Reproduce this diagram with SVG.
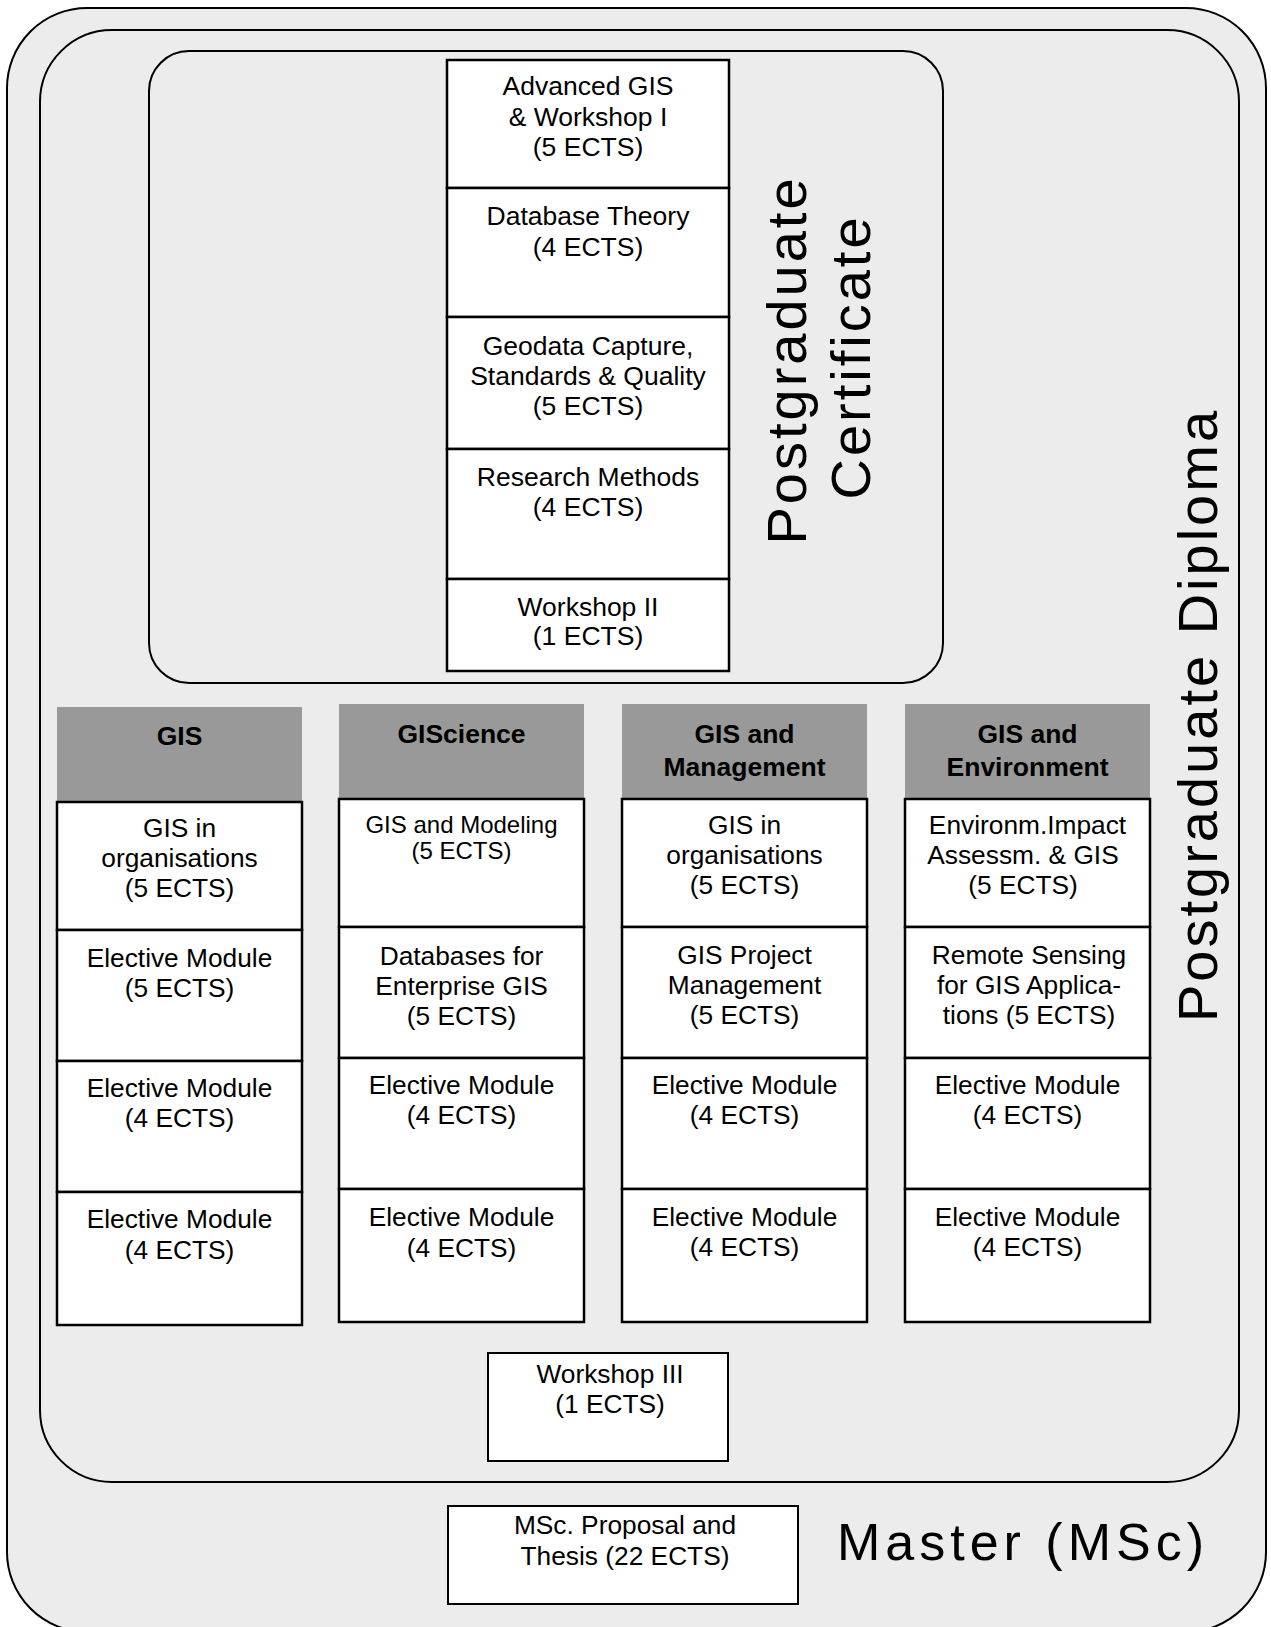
<svg xmlns="http://www.w3.org/2000/svg" width="1271" height="1627" viewBox="0 0 1271 1627">
<style>
.frame{fill:#ececec;stroke:#000;stroke-width:2}
.cell{fill:#fff;stroke:#000;stroke-width:2.5}
.hdr{fill:#999999;stroke:none}
text{font-family:"Liberation Sans",Arial,sans-serif;fill:#000;text-anchor:middle}
.t26{font-size:26.5px}
.t25{font-size:26.3px}
.t23{font-size:24px}
.hb{font-size:26.5px;font-weight:bold}
.big{font-size:56px;letter-spacing:3px}
</style>
<rect width="1271" height="1627" fill="#fff"/>
<g id="master">
<rect class="frame" x="7" y="8" width="1259" height="1624" rx="80" ry="80"/>
<text x="1023" y="1560" style="font-size:52px;letter-spacing:5px">Master (MSc)</text>
</g>
<g id="diploma">
<rect class="frame" x="40" y="30" width="1199" height="1452" rx="72" ry="72"/>
<text class="big" transform="translate(1217,715) rotate(-90)" x="0" y="0">Postgraduate Diploma</text>
</g>
<g id="certificate">
<rect class="frame" x="149" y="51" width="794" height="632" rx="40" ry="40"/>
<text class="big" transform="translate(806,360) rotate(-90)" x="0" y="0">Postgraduate</text>
<text class="big" transform="translate(870,357) rotate(-90)" x="0" y="0">Certificate</text>
</g>
<g id="cert-modules">
<g id="adv-gis"><rect class="cell" x="447" y="60" width="282" height="128"/>
<text class="t26" x="588" y="95">Advanced GIS</text><text class="t26" x="588" y="126">&amp; Workshop I</text><text class="t26" x="588" y="156">(5 ECTS)</text></g>
<g id="db-theory"><rect class="cell" x="447" y="188" width="282" height="129"/>
<text class="t26" x="588" y="225">Database Theory</text><text class="t26" x="588" y="256">(4 ECTS)</text></g>
<g id="geodata"><rect class="cell" x="447" y="317" width="282" height="132"/>
<text class="t26" x="588" y="355">Geodata Capture,</text><text class="t26" x="588" y="385">Standards &amp; Quality</text><text class="t26" x="588" y="415">(5 ECTS)</text></g>
<g id="research"><rect class="cell" x="447" y="449" width="282" height="130"/>
<text class="t26" x="588" y="486">Research Methods</text><text class="t26" x="588" y="516">(4 ECTS)</text></g>
<g id="workshop2"><rect class="cell" x="447" y="579" width="282" height="92"/>
<text class="t26" x="588" y="616">Workshop II</text><text class="t26" x="588" y="645">(1 ECTS)</text></g>
</g>
<g id="track-gis">
<rect class="hdr" x="57" y="707" width="245" height="95"/>
<text class="hb" x="179.5" y="745">GIS</text>
<rect class="cell" x="57" y="802" width="245" height="128"/>
<text class="t25" x="179.5" y="837">GIS in</text><text class="t25" x="179.5" y="867">organisations</text><text class="t25" x="179.5" y="897">(5 ECTS)</text>
<rect class="cell" x="57" y="930" width="245" height="131"/>
<text class="t25" x="179.5" y="967">Elective Module</text><text class="t25" x="179.5" y="997">(5 ECTS)</text>
<rect class="cell" x="57" y="1061" width="245" height="131"/>
<text class="t25" x="179.5" y="1097">Elective Module</text><text class="t25" x="179.5" y="1127">(4 ECTS)</text>
<rect class="cell" x="57" y="1192" width="245" height="133"/>
<text class="t25" x="179.5" y="1228">Elective Module</text><text class="t25" x="179.5" y="1259">(4 ECTS)</text>
</g>
<g id="track-giscience">
<rect class="hdr" x="339" y="704" width="245" height="95"/>
<text class="hb" x="461.5" y="743">GIScience</text>
<rect class="cell" x="339" y="799" width="245" height="128"/>
<text class="t23" x="461.5" y="833">GIS and Modeling</text><text class="t23" x="461.5" y="859">(5 ECTS)</text>
<rect class="cell" x="339" y="927" width="245" height="131"/>
<text class="t25" x="461.5" y="965">Databases for</text><text class="t25" x="461.5" y="995">Enterprise GIS</text><text class="t25" x="461.5" y="1025">(5 ECTS)</text>
<rect class="cell" x="339" y="1058" width="245" height="131"/>
<text class="t25" x="461.5" y="1094">Elective Module</text><text class="t25" x="461.5" y="1124">(4 ECTS)</text>
<rect class="cell" x="339" y="1189" width="245" height="133"/>
<text class="t25" x="461.5" y="1226">Elective Module</text><text class="t25" x="461.5" y="1257">(4 ECTS)</text>
</g>
<g id="track-management">
<rect class="hdr" x="622" y="704" width="245" height="95"/>
<text class="hb" x="744.5" y="743">GIS and</text><text class="hb" x="744.5" y="776">Management</text>
<rect class="cell" x="622" y="799" width="245" height="128"/>
<text class="t25" x="744.5" y="834">GIS in</text><text class="t25" x="744.5" y="864">organisations</text><text class="t25" x="744.5" y="894">(5 ECTS)</text>
<rect class="cell" x="622" y="927" width="245" height="131"/>
<text class="t25" x="744.5" y="964">GIS Project</text><text class="t25" x="744.5" y="994">Management</text><text class="t25" x="744.5" y="1024">(5 ECTS)</text>
<rect class="cell" x="622" y="1058" width="245" height="131"/>
<text class="t25" x="744.5" y="1094">Elective Module</text><text class="t25" x="744.5" y="1124">(4 ECTS)</text>
<rect class="cell" x="622" y="1189" width="245" height="133"/>
<text class="t25" x="744.5" y="1226">Elective Module</text><text class="t25" x="744.5" y="1256">(4 ECTS)</text>
</g>
<g id="track-environment">
<rect class="hdr" x="905" y="704" width="245" height="95"/>
<text class="hb" x="1027.5" y="743">GIS and</text><text class="hb" x="1027.5" y="776">Environment</text>
<rect class="cell" x="905" y="799" width="245" height="128"/>
<text class="t25" x="1027.5" y="834">Environm.Impact</text><text class="t25" x="1023" y="864">Assessm. &amp; GIS</text><text class="t25" x="1023" y="894">(5 ECTS)</text>
<rect class="cell" x="905" y="927" width="245" height="131"/>
<text class="t25" x="1029" y="964">Remote Sensing</text><text class="t25" x="1029" y="994">for GIS Applica-</text><text class="t25" x="1029" y="1024">tions (5 ECTS)</text>
<rect class="cell" x="905" y="1058" width="245" height="131"/>
<text class="t25" x="1027.5" y="1094">Elective Module</text><text class="t25" x="1027.5" y="1124">(4 ECTS)</text>
<rect class="cell" x="905" y="1189" width="245" height="133"/>
<text class="t25" x="1027.5" y="1226">Elective Module</text><text class="t25" x="1027.5" y="1256">(4 ECTS)</text>
</g>
<g id="workshop3">
<rect class="cell" x="488" y="1353" width="240" height="108" style="stroke-width:2"/>
<text class="t25" x="610" y="1383">Workshop III</text><text class="t25" x="610" y="1413">(1 ECTS)</text>
</g>
<g id="thesis">
<rect class="cell" x="448" y="1506" width="350" height="98" style="stroke-width:2"/>
<text class="t25" x="625" y="1534">MSc. Proposal and</text><text class="t25" x="625" y="1565">Thesis (22 ECTS)</text>
</g>
<g id="connectors"></g>
</svg>
